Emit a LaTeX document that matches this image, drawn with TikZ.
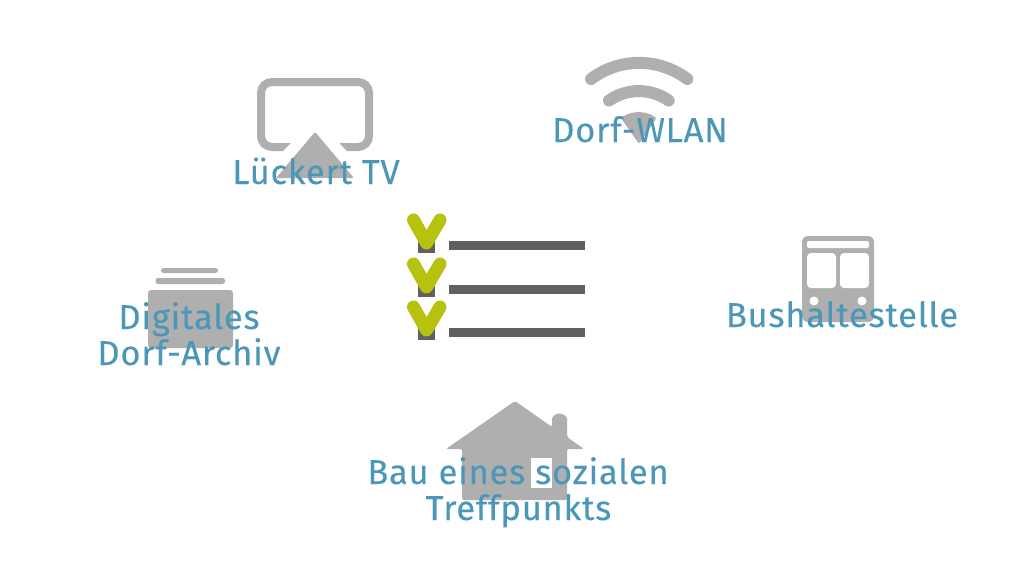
\documentclass[tikz,border=0pt]{standalone}
\usepackage{fontspec}
\setmainfont[LetterSpace=2.2,FakeBold=0.12]{Fira Sans}
\definecolor{txtblue}{HTML}{4B97B7}
\definecolor{icongray}{HTML}{AFAFAF}
\definecolor{bargray}{HTML}{606060}
\definecolor{checkgreen}{HTML}{B6C20D}
\tikzset{
  lbl/.style={anchor=base,text=txtblue,inner sep=0pt,font=\fontsize{34.5}{36}\selectfont},
  bar/.style={fill=bargray},
  chk/.style={draw=checkgreen,line width=13pt,line cap=round,line join=round},
  ico/.style={fill=icongray},
  wifi/.style={draw=icongray,line width=12pt,line cap=round}
}
\begin{document}
\begin{tikzpicture}[x=1pt,y=-1pt]
\useasboundingbox[fill=white] (0,0) rectangle (1024,576);
% TV
\draw[icongray,line width=8pt,rounded corners=11pt] (261,82) rectangle (369,147);
\fill[white] (315,118) -- (365,170) -- (265,170) -- cycle;
\fill[icongray,rounded corners=1.5pt] (315,132) -- (354,178) -- (276,178) -- cycle;
% WiFi
\draw[wifi] (591,79) arc[start angle=233,end angle=307,radius=80];
\draw[wifi] (609,100.5) arc[start angle=235,end angle=305,radius=52];
\fill[icongray,rounded corners=2pt] (639,144) -- (621,118) arc[start angle=235,end angle=305,radius=31] -- cycle;
% checklist
\foreach \n/\yy in {1/0,2/44,3/87}{
  \fill[bar] (449,241+\yy) rectangle (585,250+\yy);
  \fill[bar] (418,236+\yy) rectangle (435,253+\yy);
  \draw[chk] (413.5,220+\yy) -- (426.5,243+\yy) -- (440,220+\yy);
}
% Bus
\fill[ico,rounded corners=6pt] (802,236) rectangle (874,322);
\fill[white,rounded corners=2pt] (807,241) rectangle (869,248);
\fill[white,rounded corners=4pt] (807,253) rectangle (836,288);
\fill[white,rounded corners=4pt] (840,253) rectangle (869,288);
\fill[white] (814,301) circle[radius=4.5];
\fill[white] (862,301) circle[radius=4.5];
% Archive
\fill[ico,rounded corners=2.5pt] (161,268) rectangle (218,273);
\fill[ico,rounded corners=2.5pt] (155.5,278) rectangle (225,284);
\fill[ico,rounded corners=3pt] (148,290) rectangle (233,348);
% House
\fill[ico,rounded corners=2pt] (515,401) -- (552,427) -- (552,421) arc[start angle=180,end angle=360,radius=7.5] -- (567,437) -- (584,449) -- (567,449) -- (567,500) -- (462,500) -- (462,449) -- (446,449) -- cycle;
\fill[white] (531,458) rectangle (552,488);
% Labels
\node[lbl] (tv) at (316,184) {Lückert TV};
\node[lbl] (wlan) at (640,142) {Dorf-WLAN};
\node[lbl] (bus) at (842,327) {Bushaltestelle};
\node[lbl] (arch1) at (189,329) {Digitales};
\node[lbl] (arch2) at (189,365) {Dorf-Archiv};
\node[lbl] (bau1) at (518,484) {Bau eines sozialen};
\node[lbl] (bau2) at (518.5,520) {Treffpunkts};
\end{tikzpicture}
\end{document}
